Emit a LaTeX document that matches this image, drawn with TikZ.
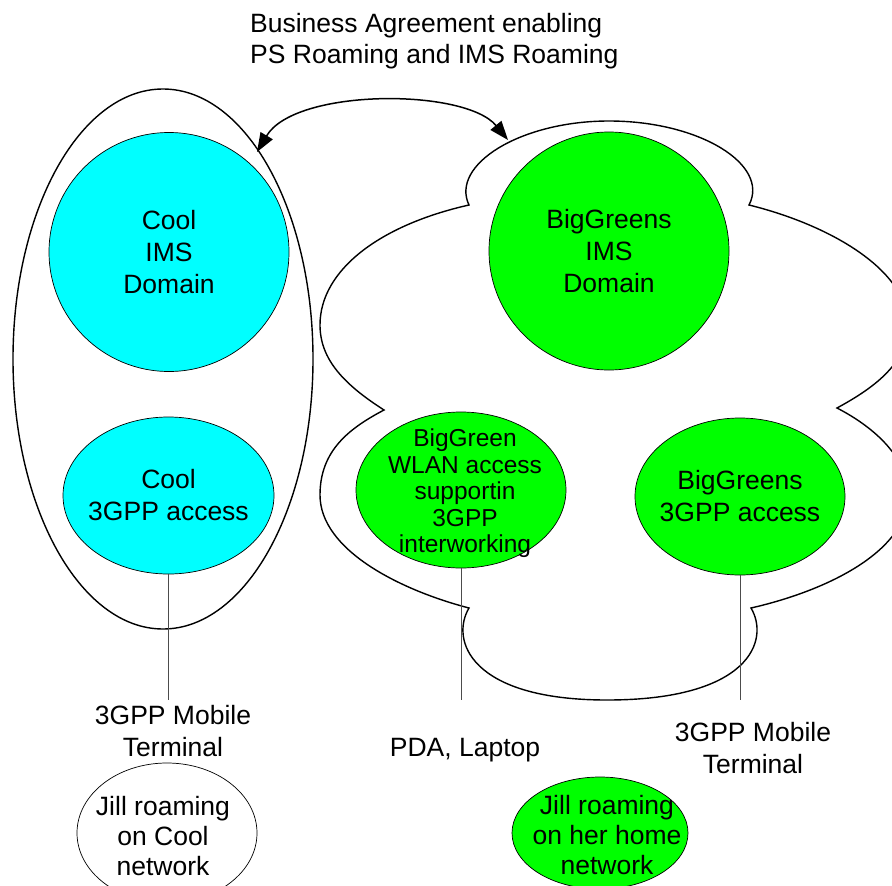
\documentclass[tikz,border=0pt]{standalone}
\usepackage{fontspec}
\setmainfont{Liberation Sans}
\usetikzlibrary{shapes.geometric,arrows.meta}
\definecolor{coolcyan}{HTML}{00FFFF}
\definecolor{biggreen}{HTML}{00FF00}
\begin{document}
\begin{tikzpicture}[x=1pt,y=-1pt,
  outline/.style={draw=black,line width=1.4pt},
  dom/.style={ellipse,draw=black,line width=0.7pt,inner sep=0pt},
  cooldom/.style={dom,fill=coolcyan},
  greendom/.style={dom,fill=biggreen},
  lbl/.style={font=\fontsize{26.5}{32}\selectfont,align=center,inner sep=0pt},
  lblsmall/.style={font=\fontsize{24.5}{26.5}\selectfont,align=center,inner sep=0pt},
  lbljill/.style={font=\fontsize{26.5}{30}\selectfont,align=center,inner sep=0pt},
  stem/.style={draw=black!70,line width=0.9pt},
  agree/.style={draw=black,line width=1.5pt,{Triangle[length=19pt,width=14pt]}-{Triangle[length=19pt,width=14pt]}}
]
\useasboundingbox (0,0) rectangle (892,886);
\clip (0,0) rectangle (892,886);

% title
\node[lbl,align=left,anchor=west,font=\fontsize{26.5}{30.5}\selectfont] (title) at (250,41)
  {Business Agreement enabling\\PS Roaming and IMS Roaming};

% Cool network outer ellipse
\node[ellipse,outline,inner sep=0pt,minimum width=300pt,minimum height=540pt] (coolnet) at (163,359) {};

% BigGreens cloud
\draw[outline] (469,205) .. controls (450,165) and (520,121) .. (609,121)
  .. controls (700,121) and (770,165) .. (749,205)
  .. controls (830,225) and (908,270) .. (908,325)
  .. controls (908,365) and (870,390) .. (837,408)
  .. controls (870,425) and (908,455) .. (908,495)
  .. controls (908,550) and (830,590) .. (751,608)
  .. controls (770,640) and (750,700) .. (607,700)
  .. controls (470,700) and (450,640) .. (469,608)
  .. controls (400,590) and (320,550) .. (320,495)
  .. controls (320,450) and (350,428) .. (384,410)
  .. controls (345,385) and (320,360) .. (320,325)
  .. controls (320,270) and (380,225) .. cycle;

% domains
\node[cooldom,minimum width=240pt,minimum height=239pt] (coolims) at (169,252) {};
\node[lbl] (coolimsT) at (169,252) {Cool\\IMS\\Domain};
\node[cooldom,minimum width=211pt,minimum height=157pt] (cool3gpp) at (168.5,495.5) {};
\node[lbl] (cool3gppT) at (168.5,495.5) {Cool\\3GPP access};

\node[greendom,minimum width=240pt,minimum height=238pt] (bgims) at (609,251) {};
\node[lbl] (bgimsT) at (609,251) {BigGreens\\IMS\\Domain};
\node[greendom,minimum width=210pt,minimum height=156pt] (wlan) at (461,490) {};
\node[lblsmall] (wlanT) at (465,493.5) {BigGreen\\WLAN access\\supportin\\3GPP\\interworking};
\node[greendom,minimum width=210pt,minimum height=157pt] (bg3gpp) at (740,496.5) {};
\node[lbl] (bg3gppT) at (740,496) {BigGreens\\3GPP access};

% stems to terminals
\coordinate (coolEnd) at (168.5,700);
\coordinate (wlanEnd) at (461,700);
\coordinate (bgEnd) at (740,700);
\draw[stem] (cool3gpp.south) -- (coolEnd);
\draw[stem] (wlan.south) -- (wlanEnd);
\draw[stem] (bg3gpp.south) -- (bgEnd);

% terminal labels
\node[lbl] (coolterm) at (173,731) {3GPP Mobile\\Terminal};
\node[lbl,anchor=base] (pda) at (465,756) {PDA, Laptop};
\node[lbl] (bgterm) at (753,748) {3GPP Mobile\\Terminal};

% Jill
\node[dom,minimum width=180pt,minimum height=140pt] (jillcool) at (167,833) {};
\node[lbljill] (jillcoolT) at (163,836.5) {Jill roaming\\on Cool\\network};
\node[greendom,minimum width=176pt,minimum height=112pt] (jillhome) at (600,833) {};
\node[lbljill] (jillhomeT) at (607,835) {Jill roaming\\on her home\\network};

% business agreement arrow
\coordinate (agreeL) at (257,152);
\coordinate (agreeR) at (508,140);
\draw[agree] (agreeL) .. controls (295,88) and (465,88) .. (agreeR);
\end{tikzpicture}
\end{document}
